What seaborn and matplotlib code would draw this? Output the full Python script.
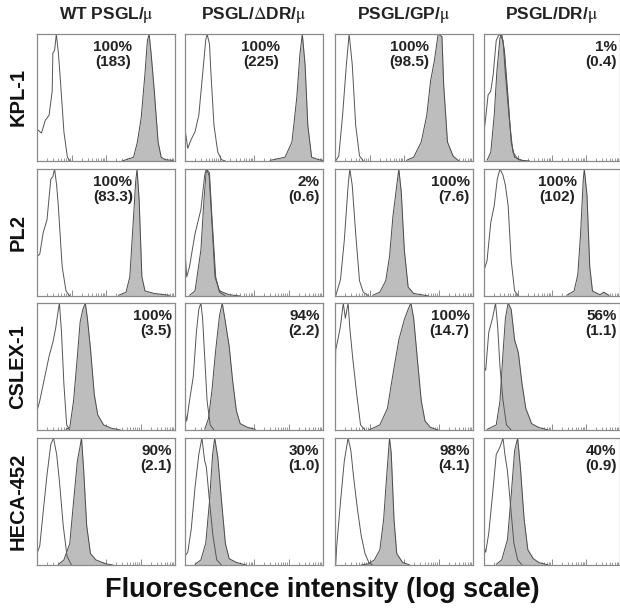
import numpy as np
import matplotlib
matplotlib.use("Agg")
import matplotlib.pyplot as plt
from matplotlib.ticker import LogLocator, NullFormatter
import seaborn as sns

# Labels
constructs = [r"WT PSGL/$\mathrm{\mu}$", r"PSGL/$\Delta$DR/$\mathrm{\mu}$",
              r"PSGL/GP/$\mathrm{\mu}$", r"PSGL/DR/$\mathrm{\mu}$"]
antibodies = ["KPL-1", "PL2", "CSLEX-1", "HECA-452"]

# % positive and (mean fluorescence), one row per antibody
pct = [["100%", "100%", "100%", "1%"],
       ["100%", "2%", "100%", "100%"],
       ["100%", "94%", "100%", "56%"],
       ["90%", "30%", "98%", "40%"]]
mfi = [["(183)", "(225)", "(98.5)", "(0.4)"],
       ["(83.3)", "(0.6)", "(7.6)", "(102)"],
       ["(3.5)", "(2.2)", "(14.7)", "(1.1)"],
       ["(2.1)", "(1.0)", "(4.1)", "(0.9)"]]

# Histogram outlines: x in log10 decades (0-4), y as fraction of max count
# control (open) curves
ctrl_x = [
    [[0, 0.13, 0.24, 0.35, 0.44, 0.46, 0.51, 0.56, 0.62, 0.68, 0.78, 0.88, 0.96],
     [0, 0, 0.08, 0.18, 0.29, 0.40, 0.51, 0.60, 0.64, 0.71, 0.75, 0.84, 0.95, 1.06, 1.17],
     [0.02, 0.11, 0.22, 0.33, 0.41, 0.5, 0.6, 0.71, 0.82],
     [0, 0, 0.05, 0.12, 0.2, 0.27, 0.36, 0.45, 0.56, 0.63, 0.74, 0.85, 1.01, 1.23]],
    [[0, 0, 0.08, 0.18, 0.29, 0.40, 0.46, 0.51, 0.57, 0.62, 0.73, 0.84, 0.95],
     [0, 0, 0.05, 0.13, 0.29, 0.46, 0.57, 0.62, 0.71, 0.78, 0.89, 1.0, 1.17],
     [0.02, 0.16, 0.27, 0.38, 0.43, 0.5, 0.6, 0.71, 0.82, 0.98],
     [0, 0, 0.09, 0.2, 0.3, 0.39, 0.47, 0.56, 0.63, 0.71, 0.8, 0.9, 1.01]],
    [[0, 0, 0.08, 0.18, 0.35, 0.46, 0.54, 0.62, 0.65, 0.71, 0.78, 0.86, 0.95],
     [0, 0, 0.05, 0.13, 0.24, 0.33, 0.4, 0.46, 0.51, 0.57, 0.64, 0.73, 0.84],
     [0, 0.02, 0.09, 0.16, 0.24, 0.3, 0.38, 0.43, 0.52, 0.63, 0.74, 0.87],
     [0, 0, 0.05, 0.14, 0.25, 0.34, 0.4, 0.47, 0.56, 0.66, 0.8]],
    [[0, 0, 0.08, 0.18, 0.29, 0.40, 0.48, 0.57, 0.65, 0.76, 0.87, 1.0],
     [0, 0, 0.08, 0.18, 0.29, 0.40, 0.49, 0.57, 0.62, 0.71, 0.81, 0.92, 1.06],
     [0.02, 0.05, 0.16, 0.27, 0.38, 0.46, 0.54, 0.65, 0.76, 0.87, 0.98, 1.09],
     [0, 0, 0.05, 0.14, 0.25, 0.36, 0.47, 0.56, 0.61, 0.69, 0.77, 0.88, 0.99, 1.12]],
]
ctrl_y = [
    [[0.25, 0.22, 0.32, 0.36, 0.55, 0.85, 0.87, 1.0, 0.85, 0.63, 0.23, 0.03, 0.0],
     [0, 0.25, 0.1, 0.17, 0.23, 0.36, 0.68, 0.95, 1.0, 0.92, 0.7, 0.28, 0.07, 0.01, 0.0],
     [0.0, 0.04, 0.36, 0.76, 1.0, 0.76, 0.28, 0.04, 0.0],
     [0, 0.23, 0.34, 0.52, 0.55, 0.68, 0.95, 1.0, 0.95, 0.68, 0.34, 0.07, 0.01, 0.0]],
    [[0, 0.31, 0.33, 0.5, 0.6, 0.92, 0.94, 1.0, 0.87, 0.7, 0.23, 0.04, 0.0],
     [0, 0.36, 0.15, 0.23, 0.49, 0.68, 0.95, 1.0, 0.97, 0.63, 0.15, 0.03, 0.0],
     [0.0, 0.13, 0.44, 0.87, 1.0, 0.87, 0.49, 0.12, 0.03, 0.0],
     [0, 0.2, 0.28, 0.58, 0.71, 0.92, 1.0, 0.95, 0.87, 0.71, 0.28, 0.04, 0.0]],
    [[0, 0.15, 0.23, 0.36, 0.58, 0.69, 0.8, 0.95, 1.0, 0.77, 0.36, 0.04, 0.0],
     [0, 0.15, 0.07, 0.23, 0.42, 0.77, 0.95, 1.0, 0.88, 0.58, 0.23, 0.04, 0.0],
     [0, 0.63, 0.72, 0.82, 1.0, 0.88, 1.0, 0.8, 0.55, 0.28, 0.04, 0.0],
     [0, 0.5, 0.47, 0.77, 0.88, 1.0, 0.82, 0.5, 0.23, 0.04, 0.0]],
    [[0, 0.09, 0.15, 0.42, 0.71, 0.95, 1.0, 0.87, 0.66, 0.31, 0.07, 0.0],
     [0, 0.07, 0.1, 0.28, 0.61, 0.87, 1.0, 0.82, 0.77, 0.5, 0.23, 0.04, 0.0],
     [0.0, 0.15, 0.5, 0.82, 1.0, 0.9, 0.69, 0.44, 0.23, 0.09, 0.02, 0.0],
     [0, 0.15, 0.1, 0.25, 0.55, 0.87, 0.93, 1.0, 0.88, 0.74, 0.5, 0.17, 0.04, 0.0]],
]
# antibody (filled) curves
stain_x = [
    [[2.47, 2.80, 2.91, 3.02, 3.13, 3.2, 3.25, 3.31, 3.40, 3.51, 3.6, 3.72, 3.94],
     [2.47, 2.9, 3.1, 3.24, 3.33, 3.4, 3.48, 3.56, 3.67, 3.88, 4.0],
     [2.07, 2.28, 2.5, 2.66, 2.77, 2.88, 2.99, 3.1, 3.15, 3.26, 3.42, 3.59],
     [0.09, 0.2, 0.3, 0.38, 0.47, 0.52, 0.6, 0.71, 0.8, 0.9, 1.12, 1.34]],
    [[2.36, 2.58, 2.69, 2.77, 2.86, 2.9, 2.96, 3.04, 3.13, 3.4, 3.84],
     [0.13, 0.29, 0.46, 0.55, 0.62, 0.7, 0.78, 0.87, 1.0, 1.28, 1.6],
     [1.09, 1.3, 1.47, 1.58, 1.68, 1.79, 1.85, 1.92, 2.01, 2.12, 2.28, 2.5, 2.72],
     [2.43, 2.65, 2.76, 2.84, 2.92, 2.95, 3.03, 3.11, 3.19, 3.41, 3.52, 3.68]],
    [[0.84, 0.95, 1.06, 1.17, 1.25, 1.33, 1.4, 1.46, 1.55, 1.66, 1.76, 1.93, 2.15, 2.42],
     [0.57, 0.68, 0.78, 0.89, 1.0, 1.08, 1.17, 1.28, 1.38, 1.49, 1.6, 1.82, 2.04],
     [0.98, 1.3, 1.52, 1.68, 1.85, 2.01, 2.12, 2.2, 2.28, 2.39, 2.5, 2.61, 2.77, 2.99],
     [0.09, 0.36, 0.47, 0.56, 0.63, 0.71, 0.8, 0.9, 1.01, 1.12, 1.23, 1.4, 1.61, 1.89]],
    [[0.62, 0.78, 0.95, 1.06, 1.17, 1.24, 1.29, 1.35, 1.44, 1.55, 1.71, 1.98, 2.2],
     [0.29, 0.46, 0.6, 0.71, 0.8, 0.86, 0.95, 1.06, 1.17, 1.28, 1.49, 1.77],
     [0.76, 0.98, 1.14, 1.3, 1.41, 1.5, 1.58, 1.63, 1.71, 1.79, 1.96, 2.17],
     [0.36, 0.52, 0.69, 0.8, 0.9, 0.99, 1.07, 1.18, 1.29, 1.45, 1.61, 1.89]],
]
stain_y = [
    [[0.0, 0.03, 0.15, 0.34, 0.69, 0.95, 1.0, 0.84, 0.55, 0.15, 0.03, 0.01, 0.005],
     [0.005, 0.03, 0.15, 0.5, 0.84, 1.0, 0.76, 0.28, 0.03, 0.01, 0.005],
     [0.005, 0.03, 0.15, 0.36, 0.63, 0.79, 1.0, 0.98, 0.6, 0.15, 0.04, 0.0],
     [0.005, 0.07, 0.36, 0.71, 0.97, 1.0, 0.87, 0.49, 0.15, 0.03, 0.005, 0.0]],
    [[0.005, 0.03, 0.15, 0.5, 0.9, 1.0, 0.76, 0.15, 0.04, 0.02, 0.005],
     [0.005, 0.04, 0.36, 0.76, 1.0, 0.95, 0.58, 0.15, 0.04, 0.01, 0.0],
     [0.005, 0.03, 0.12, 0.31, 0.63, 0.87, 1.0, 0.82, 0.36, 0.07, 0.02, 0.01, 0.0],
     [0.005, 0.04, 0.17, 0.49, 0.92, 1.0, 0.79, 0.23, 0.04, 0.01, 0.03, 0.005]],
    [[0.005, 0.02, 0.23, 0.58, 0.85, 0.95, 1.0, 0.88, 0.64, 0.28, 0.12, 0.04, 0.015, 0.0],
     [0.005, 0.09, 0.31, 0.63, 0.9, 1.0, 0.85, 0.66, 0.39, 0.15, 0.05, 0.02, 0.005],
     [0.0, 0.04, 0.17, 0.44, 0.71, 0.87, 0.95, 1.0, 0.88, 0.55, 0.23, 0.07, 0.02, 0.0],
     [0.005, 0.04, 0.23, 0.61, 0.88, 1.0, 0.95, 0.71, 0.61, 0.36, 0.17, 0.05, 0.02, 0.0]],
    [[0.005, 0.04, 0.17, 0.5, 0.82, 0.92, 1.0, 0.76, 0.31, 0.09, 0.04, 0.01, 0.0],
     [0.005, 0.04, 0.17, 0.5, 0.87, 1.0, 0.85, 0.5, 0.17, 0.05, 0.02, 0.0],
     [0.0, 0.01, 0.04, 0.12, 0.36, 0.71, 1.0, 0.88, 0.36, 0.09, 0.02, 0.0],
     [0.005, 0.04, 0.2, 0.55, 0.9, 1.0, 0.77, 0.36, 0.12, 0.05, 0.02, 0.0]],
]

# where the % / MFI label sits when centred (others are right-aligned)
centered = {(0, 0): 0.55, (0, 1): 0.55, (0, 2): 0.54, (1, 0): 0.55, (1, 3): 0.54}

sns.set_style("white")
plt.rcParams["font.family"] = ["Liberation Sans", "DejaVu Sans"]
plt.rcParams["mathtext.fontset"] = "stix"

W, H = 620, 608
fig = plt.figure(figsize=(W / 100, H / 100), dpi=100)

col_left = [37, 185, 335, 484]
col_w = [138, 138, 138, 136]
row_top = [34, 169, 303, 438]
row_h = 127
frame = "#8a8a8a"

for r in range(4):
    for c in range(4):
        ax = fig.add_axes([col_left[c] / W, 1 - (row_top[r] + row_h) / H,
                           col_w[c] / W, row_h / H])
        sx = 10 ** np.array(stain_x[r][c])
        sy = np.array(stain_y[r][c])
        cx = 10 ** np.array(ctrl_x[r][c])
        cy = np.array(ctrl_y[r][c])
        ax.fill_between(sx, sy, 0, color="#bdbdbd", lw=0)
        sns.lineplot(x=sx, y=sy, ax=ax, color="#4a4a4a", lw=0.7, sort=False, estimator=None)
        sns.lineplot(x=cx, y=cy, ax=ax, color="#555555", lw=0.7, sort=False, estimator=None)
        ax.set_xscale("log")
        ax.set_xlim(1, 1e4)
        ax.set_ylim(0, 1.0)
        ax.set_yticks([])
        ax.xaxis.set_major_locator(LogLocator(base=10, numticks=10))
        ax.xaxis.set_minor_locator(LogLocator(base=10, subs=np.arange(2, 10), numticks=50))
        ax.xaxis.set_major_formatter(NullFormatter())
        ax.xaxis.set_minor_formatter(NullFormatter())
        ax.tick_params(axis="x", which="both", bottom=True, top=False)
        ax.tick_params(axis="x", which="major", direction="in", length=4, width=0.7, color=frame)
        ax.tick_params(axis="x", which="minor", direction="in", length=2, width=0.6, color=frame)
        ax.set_xlabel("")
        ax.set_ylabel("")
        for s in ax.spines.values():
            s.set_color(frame)
            s.set_linewidth(0.9)

        label = pct[r][c] + "\n" + mfi[r][c]
        if (r, c) in centered:
            ax.text(centered[(r, c)], 0.95, label, transform=ax.transAxes, ha="center", va="top",
                    fontsize=11, fontweight="bold", color="#222222", linespacing=1.05,
                    multialignment="center")
        else:
            ax.text(0.975, 0.95, label, transform=ax.transAxes, ha="right", va="top",
                    fontsize=11, fontweight="bold", color="#222222", linespacing=1.05,
                    multialignment="right")

# column titles
for c in range(4):
    fig.text((col_left[c] + col_w[c] / 2) / W, 1 - 15 / H, constructs[c], ha="center", va="center",
             fontsize=12.5, fontweight="bold", color="#222222")

# row labels
for r in range(4):
    fig.text(18 / W, 1 - (row_top[r] + row_h / 2) / H, antibodies[r], ha="center", va="center",
             rotation=90, fontsize=14.5, fontweight="bold", color="#111111")

fig.text(322 / W, 1 - 590 / H, "Fluorescence intensity (log scale)", ha="center", va="center",
         fontsize=19.5, fontweight="bold", color="#111111")

fig.savefig("out.png", dpi=100, facecolor="white")
